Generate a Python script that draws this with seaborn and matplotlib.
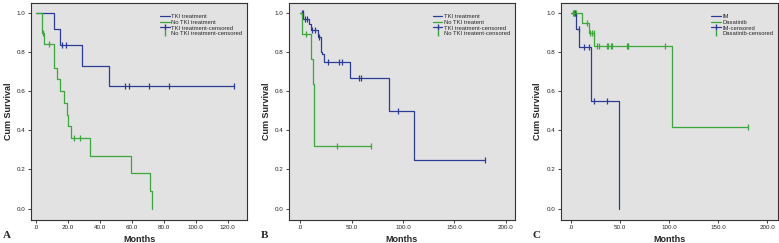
import matplotlib
matplotlib.use("Agg")
import matplotlib.pyplot as plt
from matplotlib.lines import Line2D
import seaborn as sns

# ------------------------------------------------------
# Kaplan-Meier steps (months, survival)
# ------------------------------------------------------
# Panel A
a_tki_t = [0, 11, 15, 29, 46, 124]
a_tki_s = [1.0, 0.917, 0.833, 0.729, 0.625, 0.625]
a_tki_ct = [16, 18.5, 56, 58, 71, 83, 124]
a_tki_cs = [0.833, 0.833, 0.625, 0.625, 0.625, 0.625, 0.625]
a_no_t = [0, 3.5, 5, 11.3, 13.4, 15, 17.7, 19.2, 20.2, 22, 34, 59.5, 71.5, 72.7]
a_no_s = [1.0, 0.895, 0.84, 0.72, 0.66, 0.60, 0.54, 0.48, 0.42, 0.36, 0.27, 0.18, 0.09, 0.0]
a_no_ct = [4.2, 8, 23.5, 27.6]
a_no_cs = [0.895, 0.84, 0.36, 0.36]

# Panel B
b_tki_t = [0, 3, 8, 10, 17, 20, 21.5, 23, 48, 86.5, 111, 180]
b_tki_s = [1.0, 0.97, 0.94, 0.91, 0.875, 0.80, 0.79, 0.75, 0.667, 0.5, 0.25, 0.25]
b_tki_ct = [1.3, 2.5, 5, 7, 11.5, 14.5, 18, 27, 38, 41, 57, 59.5, 95, 180]
b_tki_cs = [1.0, 1.0, 0.97, 0.97, 0.91, 0.91, 0.875, 0.75, 0.75, 0.75, 0.667, 0.667, 0.5, 0.25]
b_no_t = [0, 2, 10.7, 12, 13, 69]
b_no_s = [1.0, 0.89, 0.764, 0.637, 0.319, 0.319]
b_no_ct = [6, 36, 69]
b_no_cs = [0.89, 0.319, 0.319]

# Panel C
c_im_t = [0, 4.8, 8, 20, 48.6]
c_im_s = [1.0, 0.915, 0.825, 0.55, 0.0]
c_im_ct = [2.4, 4, 7.5, 12.6, 17.7, 22.8, 36.3]
c_im_cs = [1.0, 1.0, 0.915, 0.825, 0.825, 0.55, 0.55]
c_da_t = [0, 11.2, 17.7, 23.4, 103, 180]
c_da_s = [1.0, 0.95, 0.895, 0.828, 0.414, 0.414]
c_da_ct = [1.4, 2.4, 4.8, 16, 19.4, 21, 22.8, 26.8, 28.2, 36.3, 37.7,
           40.4, 41.4, 56.7, 57.7, 58.4, 96, 180]
c_da_cs = [1.0, 1.0, 1.0, 0.95, 0.895, 0.895, 0.895, 0.828, 0.828, 0.828, 0.828,
           0.828, 0.828, 0.828, 0.828, 0.828, 0.828, 0.414]

y_ticks = [0.0, 0.2, 0.4, 0.6, 0.8, 1.0]
y_labels = ["0.0", "0.2", "0.4", "0.6", "0.8", "1.0"]
a_xticks = [0, 20, 40, 60, 80, 100, 120]
a_xlabels = [".0", "20.0", "40.0", "60.0", "80.0", "100.0", "120.0"]
bc_xticks = [0, 50, 100, 150, 200]
bc_xlabels = [".0", "50.0", "100.0", "150.0", "200.0"]

legend_a = ["TKI treatment", "No TKI treatment", "TKI treatment-censored", "No TKI treatment-censored"]
legend_b = ["TKI treatment", "No TKI treatent", "TKI treatment-censored", "No TKI treatent-censored"]
legend_c = ["IM", "Dasatinib", "IM-censored", "Dasatinib-censored"]

BLUE = "#2b3c98"
GREEN = "#3aa83a"

sns.set_theme(style="white")
plt.rcParams["font.family"] = ["Liberation Sans", "DejaVu Sans"]

fig = plt.figure(figsize=(7.79, 2.43), dpi=100)
axes = [fig.add_axes([0.040, 0.095, 0.277, 0.893]),
        fig.add_axes([0.371, 0.095, 0.290, 0.893]),
        fig.add_axes([0.720, 0.095, 0.279, 0.893])]

panels = [
    (a_tki_t, a_tki_s, a_tki_ct, a_tki_cs, a_no_t, a_no_s, a_no_ct, a_no_cs,
     (-3, 132), a_xticks, a_xlabels, legend_a, "A"),
    (b_tki_t, b_tki_s, b_tki_ct, b_tki_cs, b_no_t, b_no_s, b_no_ct, b_no_cs,
     (-11, 209), bc_xticks, bc_xlabels, legend_b, "B"),
    (c_im_t, c_im_s, c_im_ct, c_im_cs, c_da_t, c_da_s, c_da_ct, c_da_cs,
     (-10.5, 211), bc_xticks, bc_xlabels, legend_c, "C"),
]

for ax, p in zip(axes, panels):
    (t1, s1, ct1, cs1, t2, s2, ct2, cs2, xlim, xt, xl, leg, letter) = p
    ax.set_facecolor("#e2e2e2")
    sns.lineplot(x=t1, y=s1, ax=ax, color=BLUE, lw=0.9, drawstyle="steps-post",
                 estimator=None, sort=False)
    sns.lineplot(x=t2, y=s2, ax=ax, color=GREEN, lw=0.9, drawstyle="steps-post",
                 estimator=None, sort=False)
    sns.scatterplot(x=ct1, y=cs1, ax=ax, color=BLUE, marker="|", s=14, linewidth=0.9)
    sns.scatterplot(x=ct2, y=cs2, ax=ax, color=GREEN, marker="|", s=14, linewidth=0.9)

    ax.set_xlim(*xlim)
    ax.set_ylim(-0.058, 1.05)
    ax.set_xticks(xt)
    ax.set_xticklabels(xl)
    ax.set_yticks(y_ticks)
    ax.set_yticklabels(y_labels)
    ax.tick_params(axis="both", labelsize=4.5, length=2.5, width=0.6, pad=1.5,
                   direction="out", bottom=True, left=True, colors="#222222")
    for sp in ax.spines.values():
        sp.set_color("#333333")
        sp.set_linewidth(0.8)
    ax.set_xlabel("Months", fontsize=6.5, fontweight="bold", labelpad=3)
    ax.set_ylabel("Cum Survival", fontsize=6.5, fontweight="bold", labelpad=3)

    handles = [Line2D([], [], color=BLUE, lw=0.9),
               Line2D([], [], color=GREEN, lw=0.9),
               Line2D([], [], color=BLUE, lw=0.9, marker="|", ms=4),
               Line2D([], [], color=GREEN, lw=0, marker="|", ms=4)]
    ax.legend(handles, leg, loc="upper right", bbox_to_anchor=(1.0, 0.97), frameon=False,
              fontsize=4.2, handlelength=1.6, handletextpad=0.3, labelspacing=0.1,
              borderpad=0.3)

    x0 = ax.get_position().x0
    fig.text(x0 - 0.036, 0.02, letter, fontsize=8, fontweight="bold",
             family=["Liberation Serif", "DejaVu Serif"])

fig.savefig("out.png", dpi=100)
plt.close()
